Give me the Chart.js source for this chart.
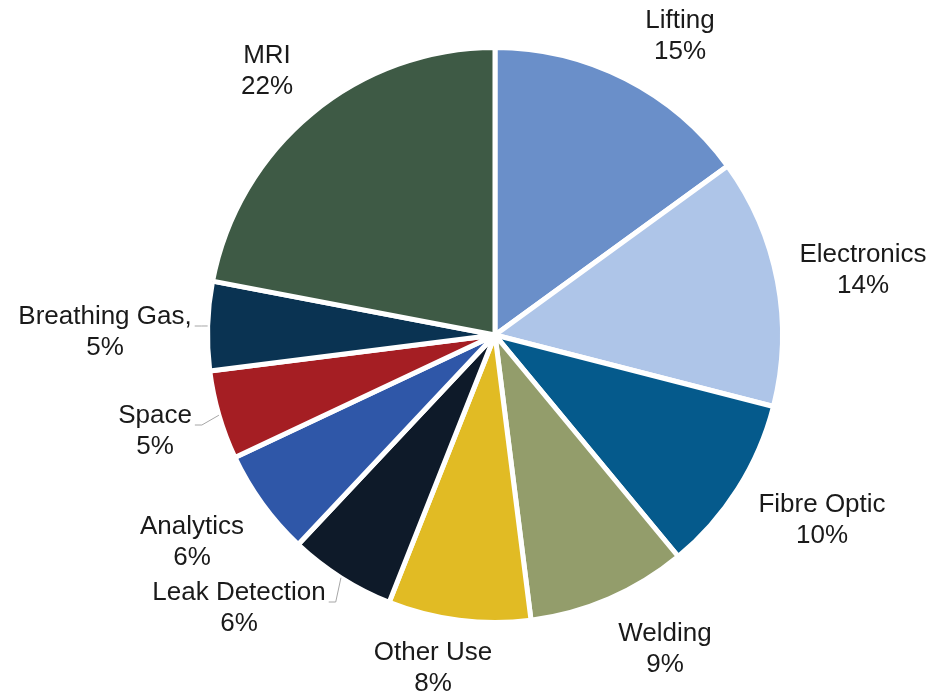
<!DOCTYPE html>
<html>
<head>
<meta charset="utf-8">
<script src="https://cdn.jsdelivr.net/npm/chart.js@4.4.1/dist/chart.umd.min.js"></script>
<style>
    html, body { margin: 0; padding: 0; background: #ffffff; }
    #wrap { width: 934px; height: 697px; position: relative; }
</style>
</head>
<body>
<div id="wrap"><canvas id="pieChart"></canvas></div>
<script>
// Chart data
const categories = ["Lifting", "Electronics", "Fibre Optic", "Welding", "Other Use",
    "Leak Detection", "Analytics", "Space", "Breathing Gas,", "MRI"];
const shares = [15, 14, 10, 9, 8, 6, 6, 5, 5, 22];
const sliceColors = ["#6a8fc9", "#aec5e8", "#055a8c", "#939d6b", "#e1bb24",
    "#0e1a29", "#2f57a8", "#a51e23", "#0a3352", "#3e5a45"];

// Label placement (offset of first text line baseline from pie centre)
const labelOffsets = [
    [185, -307], [368, -73], [327, 177], [170, 306], [-62, 325],
    [-256, 265], [-303, 199], [-340, 88], [-390, -11], [-228, -272]
];
const withLeader = [false, false, false, false, false, true, false, true, true, false];

// Draws outside labels and the short leader lines
const outsideLabels = {
    id: "outsideLabels",
    afterDatasetsDraw(chart) {
        const ctx = chart.ctx;
        const meta = chart.getDatasetMeta(0);
        const total = shares.reduce((a, b) => a + b, 0);
        ctx.save();
        ctx.font = "26px 'Liberation Sans', Arial, sans-serif";
        ctx.textAlign = "center";
        ctx.textBaseline = "alphabetic";
        meta.data.forEach((arc, i) => {
            const cx = arc.x, cy = arc.y;
            const x = cx + labelOffsets[i][0];
            const y = cy + labelOffsets[i][1];
            const pct = Math.round(shares[i] / total * 100) + "%";

            if (withLeader[i]) {
                const mid = (arc.startAngle + arc.endAngle) / 2;
                const ex = cx + Math.cos(mid) * arc.outerRadius;
                const ey = cy + Math.sin(mid) * arc.outerRadius;
                const w = ctx.measureText(categories[i]).width;
                const sx = x + w / 2 + 3;
                const sy = y + 2;
                ctx.strokeStyle = "#a6a6a6";
                ctx.lineWidth = 1;
                ctx.beginPath();
                ctx.moveTo(sx, sy);
                ctx.lineTo(sx + 7, sy);
                ctx.lineTo(ex, ey);
                ctx.stroke();
            }

            ctx.fillStyle = "#1a1a1a";
            ctx.fillText(categories[i], x, y);
            ctx.fillText(pct, x, y + 31);
        });
        ctx.restore();
    }
};

new Chart(document.getElementById("pieChart"), {
    type: "pie",
    data: {
        labels: categories,
        datasets: [{
            data: shares,
            backgroundColor: sliceColors,
            borderColor: "#ffffff",
            borderWidth: 5
        }]
    },
    options: {
        responsive: true,
        maintainAspectRatio: false,
        animation: false,
        layout: {
            padding: { top: 45, bottom: 72, left: 205, right: 149 }
        },
        plugins: {
            legend: { display: false },
            tooltip: { enabled: false }
        }
    },
    plugins: [outsideLabels]
});
</script>
</body>
</html>
